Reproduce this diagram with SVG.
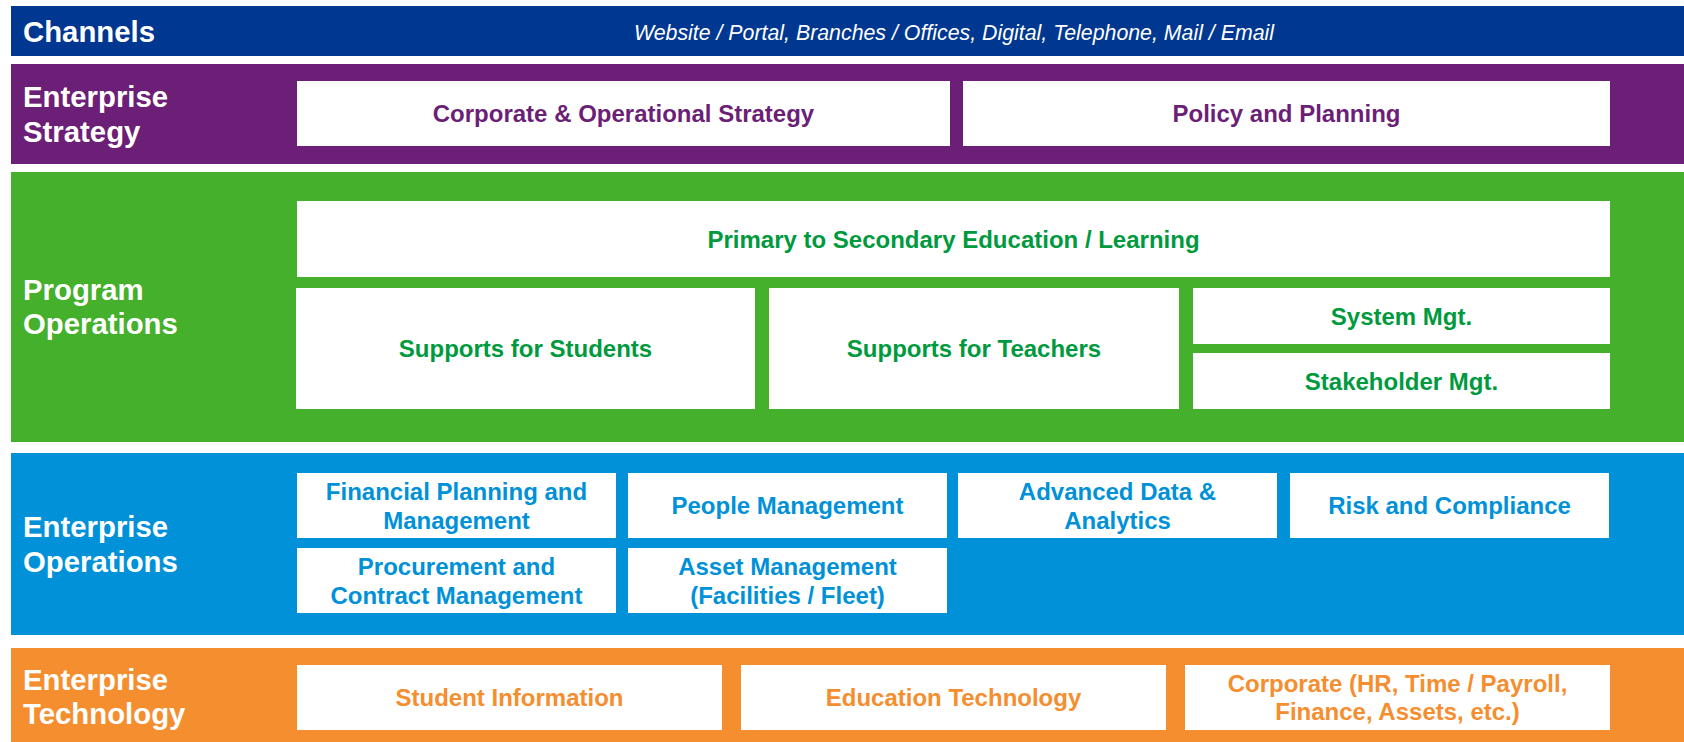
<svg xmlns="http://www.w3.org/2000/svg" width="1684" height="742" viewBox="0 0 1684 742">
  <style>
    text { font-family: "Liberation Sans", Arial, Helvetica, sans-serif; font-weight: bold; }
    .lbl { fill: #ffffff; font-size: 29.33px; }
    .sub { fill: #ffffff; font-size: 21.33px; font-style: italic; font-weight: normal; text-anchor: middle; }
    .box { fill: #ffffff; }
    .t { font-size: 24px; text-anchor: middle; }
    .purple { fill: #6c1f76; }
    .green { fill: #009a3e; }
    .blue { fill: #0091d8; }
    .orange { fill: #f58e2f; }
  </style>

  <!-- Channels -->
  <g id="channels">
    <rect x="11" y="6" width="1673" height="50" fill="#003790"/>
    <text class="lbl" x="23" y="42">Channels</text>
    <text class="sub" x="954" y="39.5">Website / Portal, Branches / Offices, Digital, Telephone, Mail / Email</text>
  </g>

  <!-- Enterprise Strategy -->
  <g id="enterprise-strategy">
    <rect x="11" y="64" width="1673" height="100" fill="#6c1f76"/>
    <text class="lbl" x="23" y="107">Enterprise</text>
    <text class="lbl" x="23" y="142">Strategy</text>
  </g>
  <g id="corporate-operational-strategy">
    <rect class="box" x="297" y="81" width="653" height="65"/>
    <text class="t purple" x="623.5" y="122">Corporate &amp; Operational Strategy</text>
  </g>
  <g id="policy-planning">
    <rect class="box" x="963" y="81" width="647" height="65"/>
    <text class="t purple" x="1286.5" y="122">Policy and Planning</text>
  </g>

  <!-- Program Operations -->
  <g id="program-operations">
    <rect x="11" y="172" width="1673" height="270" fill="#44b02b"/>
    <text class="lbl" x="23" y="300">Program</text>
    <text class="lbl" x="23" y="334">Operations</text>
  </g>
  <g id="primary-secondary">
    <rect class="box" x="297" y="201" width="1313" height="76"/>
    <text class="t green" x="953.5" y="248">Primary to Secondary Education / Learning</text>
  </g>
  <g id="supports-students">
    <rect class="box" x="296" y="288" width="459" height="121"/>
    <text class="t green" x="525.5" y="357">Supports for Students</text>
  </g>
  <g id="supports-teachers">
    <rect class="box" x="769" y="288" width="410" height="121"/>
    <text class="t green" x="974" y="357">Supports for Teachers</text>
  </g>
  <g id="system-mgt">
    <rect class="box" x="1193" y="288" width="417" height="56"/>
    <text class="t green" x="1401.5" y="325">System Mgt.</text>
  </g>
  <g id="stakeholder-mgt">
    <rect class="box" x="1193" y="353" width="417" height="56"/>
    <text class="t green" x="1401.5" y="390">Stakeholder Mgt.</text>
  </g>

  <!-- Enterprise Operations -->
  <g id="enterprise-operations">
    <rect x="11" y="453" width="1673" height="182" fill="#0091d8"/>
    <text class="lbl" x="23" y="537">Enterprise</text>
    <text class="lbl" x="23" y="572">Operations</text>
  </g>
  <g id="financial-planning">
    <rect class="box" x="297" y="473" width="319" height="65"/>
    <text class="t blue" x="456.5" y="499.5">Financial Planning and</text>
    <text class="t blue" x="456.5" y="528.5">Management</text>
  </g>
  <g id="people-management">
    <rect class="box" x="628" y="473" width="319" height="65"/>
    <text class="t blue" x="787.5" y="514">People Management</text>
  </g>
  <g id="advanced-data">
    <rect class="box" x="958" y="473" width="319" height="65"/>
    <text class="t blue" x="1117.5" y="499.5">Advanced Data &amp;</text>
    <text class="t blue" x="1117.5" y="528.5">Analytics</text>
  </g>
  <g id="risk-compliance">
    <rect class="box" x="1290" y="473" width="319" height="65"/>
    <text class="t blue" x="1449.5" y="514">Risk and Compliance</text>
  </g>
  <g id="procurement">
    <rect class="box" x="297" y="548" width="319" height="65"/>
    <text class="t blue" x="456.5" y="574.5">Procurement and</text>
    <text class="t blue" x="456.5" y="603.5">Contract Management</text>
  </g>
  <g id="asset-management">
    <rect class="box" x="628" y="548" width="319" height="65"/>
    <text class="t blue" x="787.5" y="574.5">Asset Management</text>
    <text class="t blue" x="787.5" y="603.5">(Facilities / Fleet)</text>
  </g>

  <!-- Enterprise Technology -->
  <g id="enterprise-technology">
    <rect x="11" y="648" width="1673" height="94" fill="#f58e2f"/>
    <text class="lbl" x="23" y="690">Enterprise</text>
    <text class="lbl" x="23" y="724">Technology</text>
  </g>
  <g id="student-information">
    <rect class="box" x="297" y="665" width="425" height="65"/>
    <text class="t orange" x="509.5" y="706">Student Information</text>
  </g>
  <g id="education-technology">
    <rect class="box" x="741" y="665" width="425" height="65"/>
    <text class="t orange" x="953.5" y="706">Education Technology</text>
  </g>
  <g id="corporate-systems">
    <rect class="box" x="1185" y="665" width="425" height="65"/>
    <text class="t orange" x="1397.5" y="691.5">Corporate (HR, Time / Payroll,</text>
    <text class="t orange" x="1397.5" y="720">Finance, Assets, etc.)</text>
  </g>

  <!-- no connectors in this layered layout -->
  <g id="connectors"/>
</svg>
